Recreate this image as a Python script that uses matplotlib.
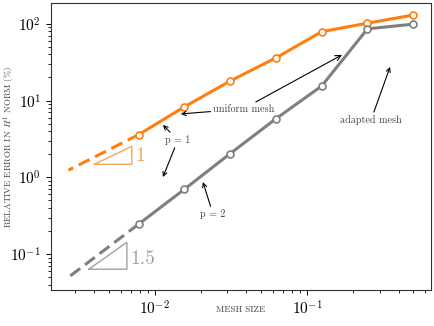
import matplotlib
matplotlib.use('Agg')
import matplotlib.pyplot as plt

plt.rcParams['font.family'] = 'serif'
plt.rcParams['font.serif'] = ['cmr10']
plt.rcParams['mathtext.fontset'] = 'cm'
plt.rcParams['axes.formatter.use_mathtext'] = True

# mesh sizes and relative errors (%)
h = [0.5, 0.25, 0.125, 0.0625, 0.03125, 0.015625, 0.0078125]
err_p1 = [130, 102, 79, 36, 18, 8.3, 3.6]
err_p2 = [99, 86, 15.5, 5.8, 2.04, 0.70, 0.246]

# extrapolated (dashed) parts
h_ext = [0.0078125, 0.0027]
p1_ext = [3.6, 1.24]
p2_ext = [0.246, 0.050]

# slope triangles
tri1_h = [4.0e-3, 7.05e-3]
tri1_e = [1.48, 2.54]
tri2_h = [3.68e-3, 6.54e-3]
tri2_e = [0.0637, 0.143]

orange = '#ff7f0e'
gray = '#7f7f7f'

fig = plt.figure(figsize=(4.35, 3.26), dpi=100)
ax = fig.add_axes([0.117, 0.110, 0.874, 0.881])

ax.plot(h_ext, p1_ext, color=orange, lw=2.2, dashes=(4, 2))
ax.plot(h_ext, p2_ext, color=gray, lw=2.2, dashes=(4, 2))
ax.plot(h, err_p1, color=orange, lw=2.2, marker='o', ms=5,
        mfc='white', mec=orange, mew=1.2)
ax.plot(h, err_p2, color=gray, lw=2.2, marker='o', ms=5,
        mfc='white', mec=gray, mew=1.2)

# slope triangles
ax.plot([tri1_h[0], tri1_h[1], tri1_h[1], tri1_h[0]],
        [tri1_e[0], tri1_e[0], tri1_e[1], tri1_e[0]], color='#f9a45c', lw=1)
ax.plot([tri2_h[0], tri2_h[1], tri2_h[1], tri2_h[0]],
        [tri2_e[0], tri2_e[0], tri2_e[1], tri2_e[0]], color='#a0a0a0', lw=1)
ax.text(7.4e-3, 1.9, '1', color='#f9a45c', fontsize=14, va='center', ha='left')
ax.text(6.85e-3, 0.087, '1.5', color='#a0a0a0', fontsize=14, va='center', ha='left')

arrow = dict(arrowstyle='->', color='black', lw=0.8, shrinkA=0, shrinkB=0)
tcol = '#444444'
fs = 7.3

ax.annotate('uniform mesh', xy=(0.0148, 6.7), xytext=(0.0385, 7.8),
            ha='center', va='center', fontsize=fs, color=tcol, arrowprops=arrow)
ax.annotate('', xy=(0.170, 39.4), xytext=(0.0461, 9.6), arrowprops=arrow)

ax.annotate('p = 1', xy=(0.01129, 4.82), xytext=(0.01416, 3.07),
            ha='center', va='center', fontsize=fs, color=tcol, arrowprops=arrow)
ax.annotate('p = 1', xy=(0.01129, 1.01), xytext=(0.01416, 3.07),
            ha='center', va='center', fontsize=fs, color='none', arrowprops=arrow)

ax.annotate('p = 2', xy=(0.0207, 0.869), xytext=(0.0241, 0.333),
            ha='center', va='center', fontsize=fs, color=tcol, arrowprops=arrow)

ax.annotate('adapted mesh', xy=(0.352, 27.5), xytext=(0.264, 5.6),
            ha='center', va='center', fontsize=fs, color=tcol, arrowprops=arrow)

ax.set_xscale('log')
ax.set_yscale('log')
ax.set_xlim(2.07e-3, 0.655)
ax.set_ylim(0.034, 187)

ax.tick_params(which='major', labelsize=11, length=3.5, width=0.7)
ax.tick_params(which='minor', length=2, width=0.6)
for s in ax.spines.values():
    s.set_linewidth(0.8)
    s.set_color('#333333')

ax.set_xlabel('MESH SIZE', fontsize=6.5, color=tcol)
ax.set_ylabel('RELATIVE ERROR IN $H^1$ NORM (%)', fontsize=6.5, color=tcol)
ax.xaxis.set_label_coords(0.5, -0.055)
ax.yaxis.set_label_coords(-0.09, 0.5)

fig.savefig('out.png', dpi=100)
